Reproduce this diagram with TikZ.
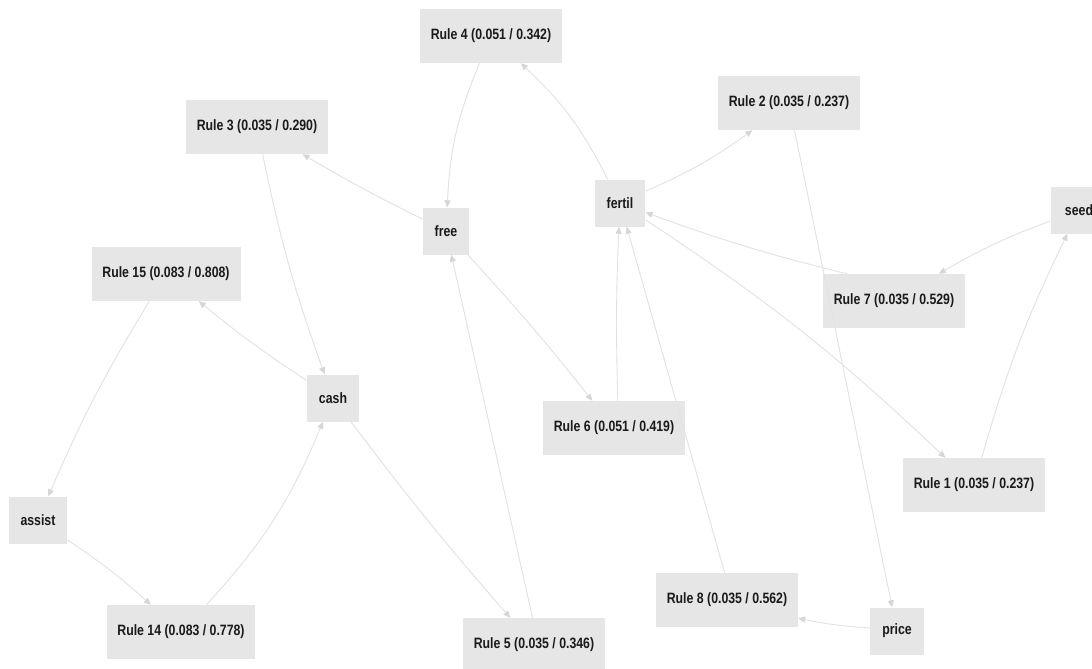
\documentclass[tikz,border=0pt]{standalone}
\usepackage{fontspec}
\setmainfont{Liberation Sans}[FakeStretch=0.82]
\usetikzlibrary{arrows.meta}
\definecolor{nodefill}{HTML}{E6E6E6}
\definecolor{edgec}{HTML}{E2E2E2}
\definecolor{arrowc}{HTML}{D6D6D6}
\definecolor{txt}{HTML}{1A1A1A}
\tikzset{
 box/.style={fill=nodefill, font=\bfseries\fontsize{15}{18}\selectfont, text=txt, inner sep=0pt},
 rulebox/.style={box, minimum width=142pt, minimum height=54pt},
 itembox/.style={box, minimum height=47pt, inner xsep=12pt},
 link/.style={draw=edgec, line width=0.9pt, -{Triangle[length=7pt,width=6pt,fill=arrowc,color=arrowc]}},
}
\begin{document}
\begin{tikzpicture}[x=1pt,y=-1pt]
\useasboundingbox (0,0) rectangle (1092,669);
\fill[white] (0,0) rectangle (1092,669);
% nodes
\node[rulebox] (r4) at (491,36) {Rule 4 (0.051 / 0.342)};
\node[itembox] (free) at (446,231) {free};
\node[itembox] (fertil) at (620,203) {fertil};
\node[rulebox] (r2) at (789,103) {Rule 2 (0.035 / 0.237)};
\node[rulebox] (r3) at (257,127) {Rule 3 (0.035 / 0.290)};
\node[itembox, minimum width=56pt] (seed) at (1079,210) {seed};
\node[rulebox, minimum width=149pt] (r15) at (166,274) {Rule 15 (0.083 / 0.808)};
\node[itembox] (cash) at (333,398) {cash};
\node[itembox] (assist) at (38,520) {assist};
\node[rulebox, minimum width=148pt] (r14) at (181,632) {Rule 14 (0.083 / 0.778)};
\node[rulebox] (r7) at (894,301) {Rule 7 (0.035 / 0.529)};
\node[rulebox] (r1) at (974,485) {Rule 1 (0.035 / 0.237)};
\node[rulebox] (r6) at (614,428) {Rule 6 (0.051 / 0.419)};
\node[rulebox] (r8) at (727,600) {Rule 8 (0.035 / 0.562)};
\node[rulebox] (r5) at (534,645) {Rule 5 (0.035 / 0.346)};
\node[itembox] (price) at (897,631) {price};
% edges
\draw[link] (free) to[bend left=2] (r3);
\draw[link] (r3) to[bend right=4] (cash);
\draw[link] (r4) to[bend right=10] (free);
\draw[link] (fertil) to[bend right=10] (r4);
\draw[link] (fertil) to[bend right=6] (r2);
\draw[link] (r2) to (price);
\draw[link] (seed) to[bend right=5] (r7);
\draw[link] (r7.150) to[bend left=3] (fertil);
\draw[link] (fertil) to[bend left=5] (r1);
\draw[link] (r1) to[bend left=5] (seed);
\draw[link] (free) to[bend left=2] (r6);
\draw[link] (r6.82) to[bend left=2] (fertil);
\draw[link] (r8.95) to (fertil);
\draw[link] (price) to[bend left=4] (r8);
\draw[link] (cash) to[bend left=3] (r15);
\draw[link] (r15) to[bend right=4] (assist);
\draw[link] (assist) to[bend left=4] (r14);
\draw[link] (r14) to[bend right=10] (cash);
\draw[link] (cash) to[bend right=2] (r5);
\draw[link] (r5.93) to (free);
\end{tikzpicture}
\end{document}
